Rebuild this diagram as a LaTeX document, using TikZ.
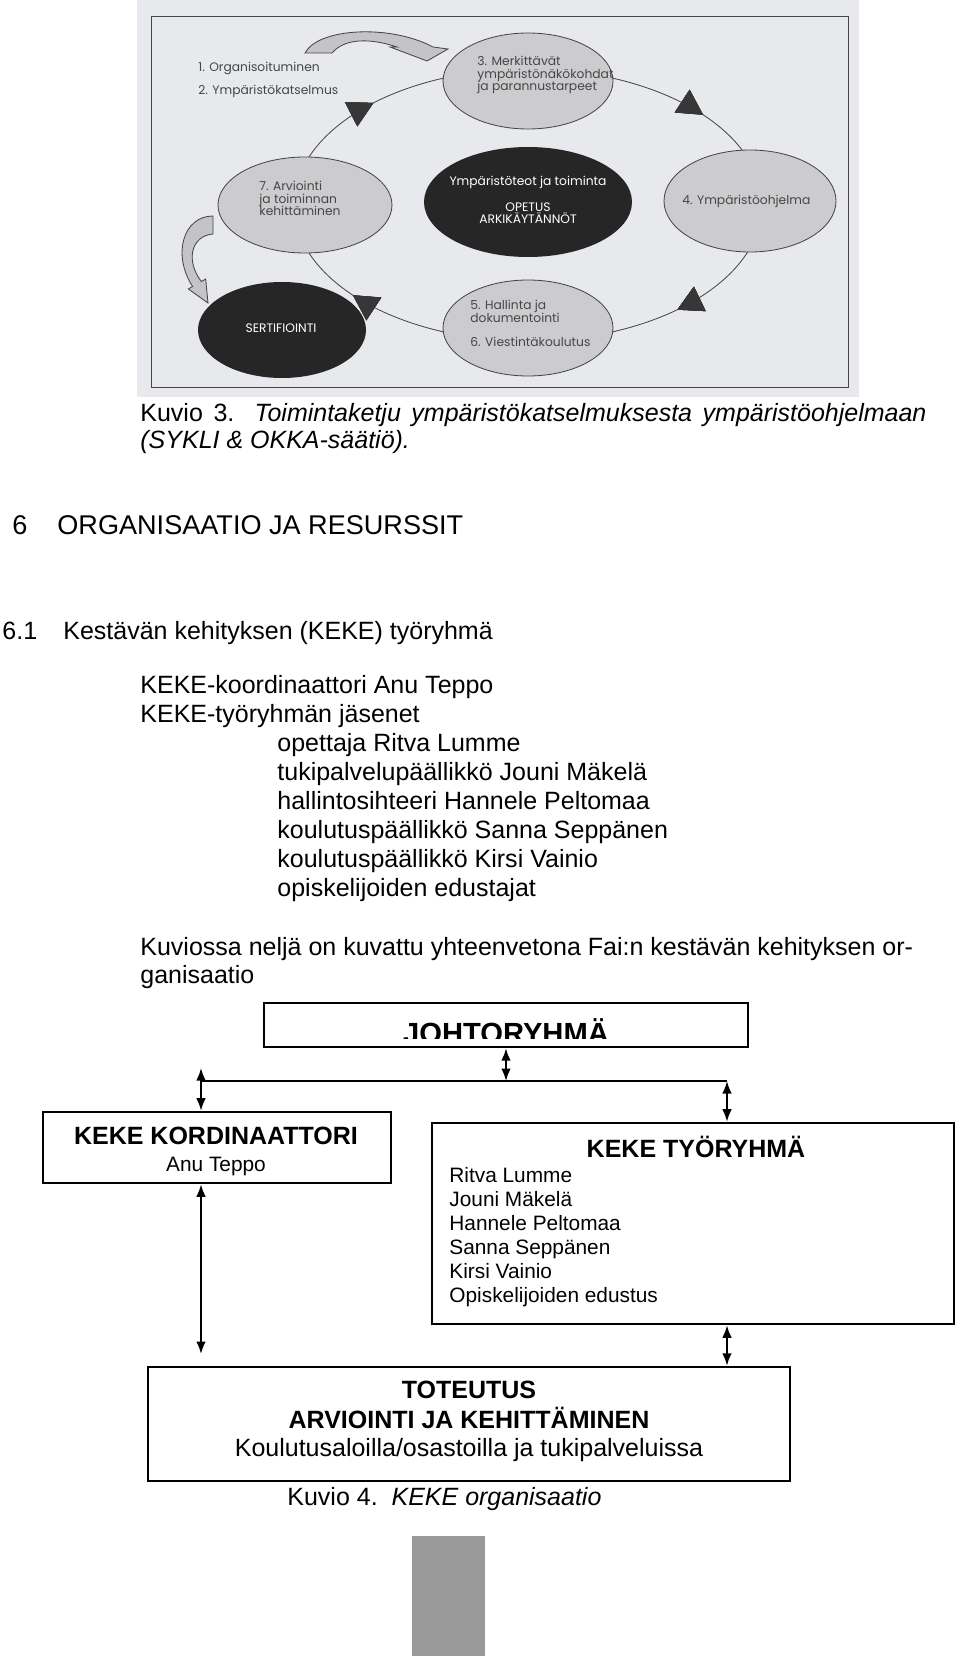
\documentclass[tikz,border=0pt]{standalone}
\usepackage{fontspec}
\setmainfont{Liberation Sans}
\newfontfamily\scanfont{Poppins}
\usetikzlibrary{positioning}
\usetikzlibrary{arrows.meta}
\usetikzlibrary{decorations.markings}
\definecolor{scanbg}{RGB}{232,233,237}
\definecolor{ellgray}{RGB}{204,204,207}
\definecolor{elldark}{RGB}{38,38,38}
\definecolor{bandgray}{RGB}{196,196,199}
\definecolor{scanline}{RGB}{70,70,70}
\definecolor{tipdark}{RGB}{55,55,55}
\definecolor{pagegray}{RGB}{153,153,153}

\begin{document}
\begin{tikzpicture}[x=0.48pt, y=-0.48pt, >={Latex[length=6pt,width=4.6pt]},
txt/.style={anchor=base west, inner sep=0pt, font=\fontsize{12}{13.9}\selectfont},
scantxt/.style={anchor=base west, inner sep=0pt, align=left, text=scanline, font=\scanfont\fontsize{5.9}{6.2}\selectfont},
box/.style={draw, line width=1.2pt, inner sep=0pt},
link/.style={<->, line width=0.9pt},
ringtip/.style={decoration={markings, mark=at position #1 with {\arrow[tipdark]{Triangle[length=12pt,width=13pt]}}}, postaction={decorate}}]
\useasboundingbox (0,0) rectangle (960,1656);

% scanned picture
\fill[scanbg] (137,0) rectangle (859,397);
\draw[scanline, thin] (151,16) rectangle (848,387);

% cycle
\draw[scanline, thin, ringtip=0.12, ringtip=0.405, ringtip=0.615, ringtip=0.905]
  (528,205) ellipse [x radius=234, y radius=136];

% ellipses
\filldraw[fill=ellgray, draw=scanline, thin] (528,81) ellipse [x radius=85, y radius=48];
\filldraw[fill=ellgray, draw=scanline, thin] (750,201) ellipse [x radius=86, y radius=51];
\filldraw[fill=ellgray, draw=scanline, thin] (528,328) ellipse [x radius=85, y radius=48];
\filldraw[fill=ellgray, draw=scanline, thin] (305,205) ellipse [x radius=87, y radius=48];
\fill[elldark] (528,202) ellipse [x radius=104, y radius=55];
\fill[elldark] (282,330) ellipse [x radius=84, y radius=48];

% bent arrows
\filldraw[fill=bandgray, draw=scanline, thin] (305,53) .. controls (318,28) and (390,24) .. (433,47)
  -- (448,49) -- (427,61) -- (390,47) -- (397,47) .. controls (370,38) and (345,38) .. (332,53) -- cycle;
\filldraw[fill=bandgray, draw=scanline, thin] (213,216) .. controls (183,216) and (172,255) .. (192.6,286.5)
  -- (188.3,289) -- (208,303) -- (205.7,279) -- (201.4,281.5) .. controls (186,262) and (190,236) .. (213,234) -- cycle;

% scan texts (base = last line)
\node[scantxt] (org) at (198,72) {1. Organisoituminen};
\node[scantxt] (katsel) at (198,95) {2. Ympäristökatselmus};
\node[scantxt] (merk) at (477,91) {3. Merkittävät\\ympäristönäkökohdat\\ja parannustarpeet};
\node[scantxt] (ohjelma) at (682,205) {4. Ympäristöohjelma};
\node[scantxt, anchor=base, align=center, text=white] (teot) at (528,224) {Ympäristöteot ja toiminta\\[6.2pt]OPETUS\\ARKIKÄYTÄNNÖT};
\node[scantxt] (arvio) at (259,216) {7. Arviointi\\ja toiminnan\\kehittäminen};
\node[scantxt] (hallinta) at (470,347) {5. Hallinta ja\\dokumentointi\\[5.5pt]6. Viestintäkoulutus};
\node[scantxt, anchor=base, text=white] (sert) at (281,333) {SERTIFIOINTI};

% captions and headings
\node[txt] (kuvio3) at (140,421) {\makebox[377.3pt][s]{Kuvio 3. \textit{Toimintaketju ympäristökatselmuksesta ympäristöohjelmaan}}};
\node[txt] (sykli) at (140,448) {\textit{(SYKLI \& OKKA-säätiö).}};
\node[txt, font=\fontsize{13}{15}\selectfont] (h6num) at (12,534) {6};
\node[txt, font=\fontsize{13}{15}\selectfont] (h6) at (57,534) {ORGANISAATIO JA RESURSSIT};
\node[txt] (h61num) at (2,639) {6.1};
\node[txt] (h61) at (63,639) {Kestävän kehityksen (KEKE) työryhmä};

% member list
\node[txt, align=left] (kekelist) at (140,722) {KEKE-koordinaattori Anu Teppo\\KEKE-työryhmän jäsenet};
\node[txt, align=left] (members) at (277,896) {opettaja Ritva Lumme\\tukipalvelupäällikkö Jouni Mäkelä\\hallintosihteeri Hannele Peltomaa\\koulutuspäällikkö Sanna Seppänen\\koulutuspäällikkö Kirsi Vainio\\opiskelijoiden edustajat};
\node[txt, align=left, font=\fontsize{12}{13.4}\selectfont] (kuviossa) at (140,983) {Kuviossa neljä on kuvattu yhteenvetona Fai:n kestävän kehityksen or-\\ganisaatio};

% boxes
\node[box, minimum width=232.3pt, minimum height=21.1pt] (johto) at (506,1025) {};
\begin{scope}
\clip (264,1003) rectangle (748,1038);
\node[anchor=base, inner sep=0pt, font=\fontsize{14}{16}\selectfont\bfseries] (johtotxt) at (506,1043) {JOHTORYHMÄ};
\end{scope}
\node[box, minimum width=167pt, minimum height=34.1pt] (koord) at (217,1147.5) {};
\node[anchor=base, inner sep=0pt, font=\fontsize{12}{14}\selectfont\bfseries] (koordtitle) at (216,1144) {KEKE KORDINAATTORI};
\node[below=5.8pt of koordtitle, inner sep=0pt, font=\fontsize{10}{12}\selectfont] (anu) {Anu Teppo};
\node[box, minimum width=250.6pt, minimum height=96.5pt] (tyor) at (693,1223.5) {};
\node[anchor=base, inner sep=0pt, font=\fontsize{12}{14}\selectfont\bfseries] (tyortitle) at (696,1157) {KEKE TYÖRYHMÄ};
\node[anchor=base west, inner sep=0pt, align=left, font=\fontsize{10}{11.52}\selectfont] (names) at (449,1302) {Ritva Lumme\\Jouni Mäkelä\\Hannele Peltomaa\\Sanna Seppänen\\Kirsi Vainio\\Opiskelijoiden edustus};
\node[box, minimum width=308.2pt, minimum height=54.7pt] (tot) at (469,1424) {};
\node[anchor=base, inner sep=0pt, align=center, font=\fontsize{12}{14.4}\selectfont] (tottxt) at (469,1456) {\textbf{TOTEUTUS}\\\textbf{ARVIOINTI JA KEHITTÄMINEN}\\[-1.4pt]Koulutusaloilla/osastoilla ja tukipalveluissa};
\node[txt] (kuvio4) at (287,1505) {Kuvio 4.\ \ \textit{KEKE organisaatio}};

% connectors
\coordinate (split) at (506,1081);
\coordinate (jl) at (201,1081);
\coordinate (jr) at (727,1081);
\coordinate (jltop) at (201,1068);
\coordinate (kbot) at (201,1354);
\draw[line width=0.9pt] (jl) -- (jr);
\draw[link] (johto.south) -- (split);
\draw[link] (jltop) -- (jl |- koord.north);
\draw[link] (jr) -- (jr |- tyor.north);
\draw[link] (jl |- koord.south) -- (kbot);
\draw[link] (jr |- tyor.south) -- (jr |- tot.north);

% page edge
\fill[pagegray] (412,1536) rectangle (485,1656);
\end{tikzpicture}
\end{document}
